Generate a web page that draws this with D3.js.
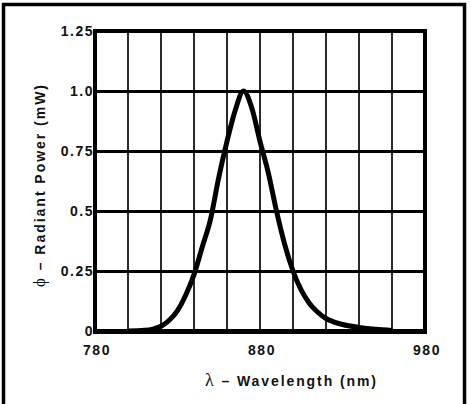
<!DOCTYPE html>
<html>
<head>
<meta charset="utf-8">
<script src="https://cdn.jsdelivr.net/npm/d3@7"></script>
<style>
  html, body { margin: 0; padding: 0; background: #fff; }
  svg { display: block; }
  .lbl { font-family: "Liberation Sans", Arial, sans-serif; font-weight: bold; font-size: 14px; letter-spacing: 1.5px; fill: #111; }
  .title { font-family: "Liberation Sans", Arial, sans-serif; font-weight: bold; font-size: 14px; fill: #111; }
  .greek { font-family: "Liberation Serif", "DejaVu Serif", serif; font-weight: normal; }
</style>
</head>
<body>
<div id="chart"></div>
<script>
// spectral curve
const wavelengths = [800, 810, 815, 820, 825, 830, 835, 840, 845, 850, 855, 860, 865, 870,
                     875, 880, 885, 890, 895, 900, 905, 910, 915, 920, 925, 930, 940, 950, 960];
const power = [0, 0.003, 0.008, 0.02, 0.045, 0.085, 0.15, 0.235, 0.35, 0.465, 0.64, 0.79, 0.92, 1.0,
               0.93, 0.79, 0.66, 0.5, 0.36, 0.25, 0.17, 0.115, 0.078, 0.052, 0.037, 0.027, 0.015, 0.007, 0.002];

const xTicks = [780, 880, 980];
const xGrid = [800, 820, 840, 860, 880, 900, 920, 940, 960];
const yTicks = [0, 0.25, 0.5, 0.75, 1.0, 1.25];
const yTickLabels = ["0", "0.25", "0.5", "0.75", "1.0", "1.25"];

const width = 471, height = 404;
const margin = { top: 31, right: 46, bottom: 73, left: 95 };

const svg = d3.select("#chart")
    .append("svg")
    .attr("width", width)
    .attr("height", height)
    .attr("viewBox", [0, 0, width, height]);

const x = d3.scaleLinear().domain([780, 980]).range([margin.left, width - margin.right]);
const y = d3.scaleLinear().domain([0, 1.25]).range([height - margin.bottom, margin.top]);

// outer frame (bottom edge runs off the picture)
svg.append("path")
    .attr("d", `M3.5,${height + 10} V4.5 H464.5 V${height + 10}`)
    .attr("fill", "none")
    .attr("stroke", "#000")
    .attr("stroke-width", 3.5);

// vertical grid
svg.append("g")
    .selectAll("line")
    .data(xGrid)
    .join("line")
    .attr("x1", d => Math.round(x(d)))
    .attr("x2", d => Math.round(x(d)))
    .attr("y1", y(1.25))
    .attr("y2", y(0))
    .attr("stroke", "#2a2a2a")
    .attr("stroke-width", 2);

// horizontal grid
svg.append("g")
    .selectAll("line")
    .data(yTicks.slice(1, -1))
    .join("line")
    .attr("x1", x(780))
    .attr("x2", x(980))
    .attr("y1", d => Math.round(y(d)) + 0.5)
    .attr("y2", d => Math.round(y(d)) + 0.5)
    .attr("stroke", "#000")
    .attr("stroke-width", 3);

// curve
const line = d3.line()
    .x((d, i) => x(wavelengths[i]))
    .y(d => y(d))
    .curve(d3.curveMonotoneX);

svg.append("path")
    .datum(power)
    .attr("d", line)
    .attr("fill", "none")
    .attr("stroke", "#000")
    .attr("stroke-width", 5)
    .attr("stroke-linejoin", "round");

// plot border
svg.append("rect")
    .attr("x", x(780))
    .attr("y", y(1.25))
    .attr("width", x(980) - x(780))
    .attr("height", y(0) - y(1.25))
    .attr("fill", "none")
    .attr("stroke", "#000")
    .attr("stroke-width", 4);

svg.append("line")
    .attr("x1", x(780) - 2)
    .attr("x2", x(980) + 2)
    .attr("y1", y(0) + 1)
    .attr("y2", y(0) + 1)
    .attr("stroke", "#000")
    .attr("stroke-width", 4);

// y tick labels
svg.append("g")
    .selectAll("text")
    .data(yTicks)
    .join("text")
    .attr("class", "lbl")
    .attr("x", x(780) - 1)
    .attr("y", d => y(d))
    .attr("dy", "0.36em")
    .attr("text-anchor", "end")
    .text((d, i) => yTickLabels[i]);

// x tick labels
svg.append("g")
    .selectAll("text")
    .data(xTicks)
    .join("text")
    .attr("class", "lbl")
    .attr("x", d => x(d) + 2)
    .attr("y", 355)
    .attr("text-anchor", "middle")
    .text(d => d);

// x axis title
const xt = svg.append("text")
    .attr("class", "title")
    .attr("x", 205)
    .attr("y", 386)
    .attr("textLength", 171)
    .attr("lengthAdjust", "spacing");
xt.append("tspan").attr("class", "greek").style("font-size", "18px").text("λ");
xt.append("tspan").text(" – Wavelength (nm)");

// y axis title
const yt = svg.append("text")
    .attr("class", "title")
    .attr("transform", `translate(45,287) rotate(-90)`)
    .attr("textLength", 202)
    .attr("lengthAdjust", "spacing");
yt.append("tspan").attr("class", "greek").style("font-size", "17px").text("ϕ");
yt.append("tspan").text(" – Radiant Power (mW)");
</script>
</body>
</html>
